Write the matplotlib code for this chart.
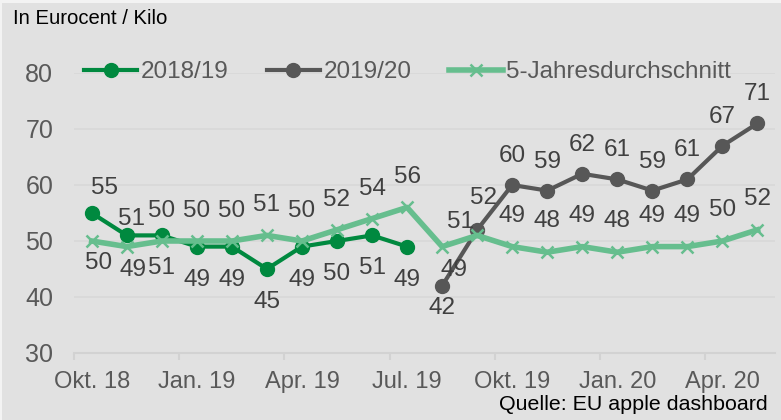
import matplotlib.pyplot as plt
from matplotlib.patches import Rectangle

months = ['Okt. 18', 'Nov. 18', 'Dez. 18', 'Jan. 19', 'Feb. 19', 'Mär. 19', 'Apr. 19',
          'Mai. 19', 'Jun. 19', 'Jul. 19', 'Aug. 19', 'Sep. 19', 'Okt. 19', 'Nov. 19',
          'Dez. 19', 'Jan. 20', 'Feb. 20', 'Mär. 20', 'Apr. 20', 'Mai. 20']
price_1819 = [55, 51, 51, 49, 49, 45, 49, 50, 51, 49]
price_1920 = [42, 52, 60, 59, 62, 61, 59, 61, 67, 71]
avg_5y = [50, 49, 50, 50, 50, 51, 50, 52, 54, 56, 49, 51, 49, 48, 49, 48, 49, 49, 50, 52]
tick_months = ['Okt. 18', 'Jan. 19', 'Apr. 19', 'Jul. 19', 'Okt. 19', 'Jan. 20', 'Apr. 20']

c_1819 = '#00893f'
c_1920 = '#575757'
c_avg = '#66be8e'
c_txt = '#595959'
c_lbl = '#404040'
bg = '#e1e1e1'

fig = plt.figure(figsize=(7.81, 4.2), dpi=100)
fig.patch.set_facecolor('#f3f3f3')
fig.patches.append(Rectangle((2 / 781, 0), 1, 1 - 3 / 420, transform=fig.transFigure,
                             facecolor=bg, edgecolor='none', zorder=-1))

ax = fig.add_axes([74.2 / 781, 67 / 420, 700.8 / 781, 280 / 420])
ax.set_facecolor(bg)

x_all = list(range(len(months)))
x_1819 = x_all[:len(price_1819)]
x_1920 = x_all[len(price_1819):]

ax.plot(x_1819, price_1819, color=c_1819, lw=3, marker='o', ms=10, label='2018/19', zorder=3)
ax.plot(x_1920, price_1920, color=c_1920, lw=3, marker='o', ms=10, label='2019/20', zorder=3)
ax.plot(x_all, avg_5y, color=c_avg, lw=4, marker='x', ms=9, mew=1.8,
        label='5-Jahresdurchschnitt', zorder=4)

# label offsets in pixels (dx, dy), positive dy = up
off_1819 = [(13, 25), (5, 16)] + [(0, -33)] * 8
off_1920 = [(0, -22), (6, 32)] + [(0, 29)] * 8
off_avg = [(7, -22), (6, -23)] + [(0, 30)] * 8 + [(12, -23), (-17, 13)] + [(0, 31)] * 8

lbl_font = dict(fontsize=17.5, color=c_lbl, ha='center', va='center', family='Liberation Sans')
for xs, ys, offs in [(x_1819, price_1819, off_1819), (x_1920, price_1920, off_1920),
                     (x_all, avg_5y, off_avg)]:
    for xv, yv, (dx, dy) in zip(xs, ys, offs):
        ax.annotate(str(yv), (xv, yv), xytext=(dx, dy), textcoords='offset pixels',
                    annotation_clip=False, zorder=5, **lbl_font)

ax.set_xlim(-0.5, len(months) - 0.5)
ax.set_ylim(30, 80)
ax.set_yticks([30, 40, 50, 60, 70, 80])
ax.grid(axis='y', color='#d8d8d8', lw=1.2)
ax.set_axisbelow(True)
for s in ['top', 'right', 'left']:
    ax.spines[s].set_visible(False)
ax.spines['bottom'].set_color('#d2d2d2')
ax.spines['bottom'].set_linewidth(1.5)

ax.set_xticks([i - 0.5 for i in range(0, len(months), 3)])
ax.set_xticklabels([])
ax.tick_params(axis='x', which='major', length=5, width=1.5, color='#d2d2d2')
ax.set_xticks([months.index(m) for m in tick_months], minor=True)
ax.set_xticklabels(tick_months, minor=True, fontsize=17, color=c_txt, family='Liberation Sans')
ax.tick_params(axis='x', which='minor', length=0, pad=13)
ax.tick_params(axis='y', length=0, pad=15, labelsize=18, labelcolor=c_txt)
for t in ax.get_yticklabels():
    t.set_family('Liberation Sans')

fig.text(13 / 781, 1 - 19 / 420, 'In Eurocent / Kilo', fontsize=14.6, color='black',
         ha='left', va='center', family='Liberation Sans')
fig.text(768 / 781, 1 - 405 / 420, 'Quelle: EU apple dashboard', fontsize=15.4, color='black',
         ha='right', va='center', family='Liberation Sans')

leg = ax.legend(loc='center left', bbox_to_anchor=(84 / 781, 1 - 72 / 420),
                bbox_transform=fig.transFigure, ncol=3, frameon=False, borderpad=0,
                borderaxespad=0, handlelength=2.2, handletextpad=0.15, columnspacing=1.55,
                prop={'family': 'Liberation Sans', 'size': 17.5})
for t in leg.get_texts():
    t.set_color(c_txt)

fig.savefig('out.png', dpi=100, facecolor=fig.get_facecolor())
